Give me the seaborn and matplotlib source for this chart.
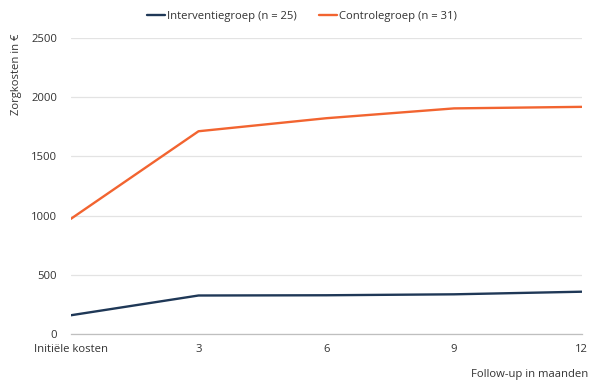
import matplotlib
matplotlib.use("Agg")
import matplotlib.pyplot as plt
import seaborn as sns
import pandas as pd

# Zorgkosten per meetmoment
categories = ["Initiële kosten", "3", "6", "9", "12"]
interventie = [158, 325, 327, 335, 357]
controle = [972, 1712, 1822, 1905, 1918]
series_names = ["Interventiegroep (n = 25)", "Controlegroep (n = 31)"]
yticks = [0, 500, 1000, 1500, 2000, 2500]

df = pd.DataFrame({
    "pos": list(range(len(categories))) * 2,
    "kosten": interventie + controle,
    "groep": [series_names[0]] * len(categories) + [series_names[1]] * len(categories),
})

sns.set_theme(style="white")
plt.rcParams["font.family"] = ["Open Sans", "DejaVu Sans"]

FS = 8.1

fig = plt.figure(figsize=(5.9, 3.82), dpi=100)
ax = fig.add_axes([0.120, 0.1257, 0.866, 0.775])

palette = {series_names[0]: "#1F3857", series_names[1]: "#F26430"}
sns.lineplot(data=df, x="pos", y="kosten", hue="groep", palette=palette,
             linewidth=1.7, ax=ax, legend=False)

ax.set_xlim(0, len(categories) - 1)
ax.set_ylim(0, 2500)
ax.set_xticks(range(len(categories)))
ax.set_xticklabels(categories)
ax.set_yticks(yticks)
ax.set_yticklabels([str(v) for v in yticks])
ax.tick_params(axis="both", length=0, labelsize=FS, colors="#333333")
ax.tick_params(axis="x", pad=7)
ax.tick_params(axis="y", pad=10)
ax.grid(axis="y", color="#E3E3E3", linewidth=0.9)
ax.set_axisbelow(True)
for s in ["top", "right", "left"]:
    ax.spines[s].set_visible(False)
ax.spines["bottom"].set_color("#BFBFBF")
ax.spines["bottom"].set_linewidth(0.9)
ax.set_xlabel("")
ax.set_ylabel("")

fig.text(17 / 590, 1 - 74 / 382, "Zorgkosten in €", rotation=90,
         ha="center", va="center", fontsize=FS, color="#333333")
fig.text(588 / 590, 1 - 374 / 382, "Follow-up in maanden",
         ha="right", va="center", fontsize=FS, color="#333333")

handles = [plt.Line2D([], [], color=palette[n], linewidth=1.7) for n in series_names]
fig.legend(handles, series_names, loc="center", ncol=2,
           bbox_to_anchor=(302 / 590, 1 - 16 / 382), frameon=False,
           fontsize=FS, handlelength=1.6, handletextpad=0.15,
           columnspacing=2.0, labelcolor="#333333")

fig.savefig("out.png", dpi=100)
